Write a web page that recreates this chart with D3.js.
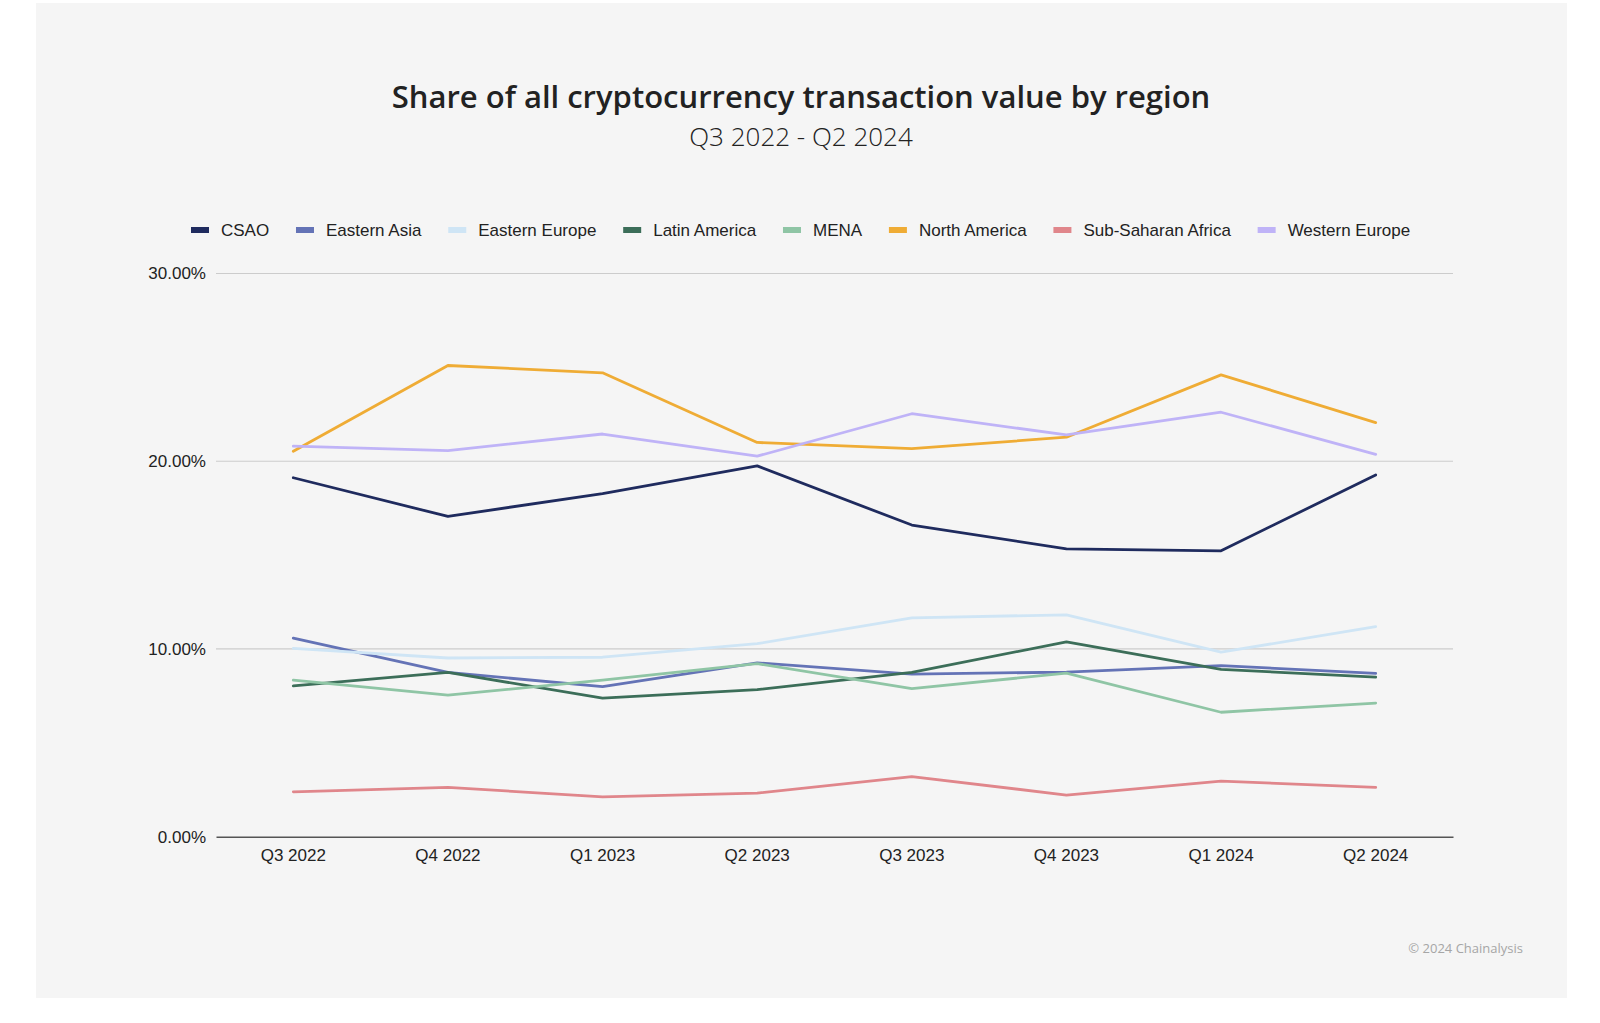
<!DOCTYPE html>
<html><head><meta charset="utf-8">
<script src="https://cdn.jsdelivr.net/npm/d3@7"></script>
<style>
html,body{margin:0;padding:0;background:#fff;}
svg{display:block;}
</style></head>
<body>
<svg id="chart" width="1600" height="1023"></svg>
<script>
const quarters = ["Q3 2022","Q4 2022","Q1 2023","Q2 2023","Q3 2023","Q4 2023","Q1 2024","Q2 2024"];
const regions = ["CSAO","Eastern Asia","Eastern Europe","Latin America","MENA","North America","Sub-Saharan Africa","Western Europe"];
const colors = ["#1f2b5e","#6473b6","#cfe5f5","#3c6e59","#8fc5a5","#efac35","#e0868b","#bfb3f7"];
const csao = [19.12, 17.06, 18.28, 19.75, 16.6, 15.33, 15.23, 19.27];
const easternAsia = [10.58, 8.75, 7.99, 9.26, 8.66, 8.77, 9.11, 8.7];
const easternEurope = [10.03, 9.52, 9.56, 10.28, 11.66, 11.82, 9.83, 11.19];
const latinAmerica = [8.03, 8.75, 7.38, 7.83, 8.75, 10.38, 8.91, 8.5];
const mena = [8.34, 7.54, 8.34, 9.22, 7.89, 8.71, 6.63, 7.12];
const northAmerica = [20.53, 25.1, 24.71, 21.0, 20.67, 21.28, 24.6, 22.06];
const subSaharanAfrica = [2.39, 2.63, 2.12, 2.32, 3.2, 2.22, 2.96, 2.63];
const westernEurope = [20.8, 20.57, 21.45, 20.27, 22.53, 21.4, 22.61, 20.37];
const yTicks = [0, 10, 20, 30];
const seriesValues = [csao, easternAsia, easternEurope, latinAmerica, mena, northAmerica, subSaharanAfrica, westernEurope];

const svg = d3.select("#chart");
svg.append("rect").attr("x",36).attr("y",3).attr("width",1531).attr("height",995).attr("fill","#f5f5f5");

svg.append("text").attr("x",801).attr("y",108).attr("text-anchor","middle")
  .style("font-family","'Open Sans', Lato, sans-serif").style("font-weight","600").style("font-size","31px")
  .attr("fill","#222").text("Share of all cryptocurrency transaction value by region");
svg.append("text").attr("x",801).attr("y",146).attr("text-anchor","middle")
  .style("font-family","'Open Sans', Lato, sans-serif").style("font-weight","300").style("font-size","26px")
  .attr("fill","#222").text("Q3 2022 - Q2 2024");

const pLeft = 216, pRight = 1453, pTop = 273.5, pBottom = 836.7;
const x = d3.scaleBand().domain(quarters).range([pLeft, pRight]);
const y = d3.scaleLinear().domain([0, 30]).range([pBottom, pTop]);

const grid = svg.append("g");
grid.selectAll("line").data(yTicks.filter(d=>d>0)).join("line")
  .attr("x1",pLeft).attr("x2",pRight).attr("y1",d=>y(d)).attr("y2",d=>y(d))
  .attr("stroke","#cccccc").attr("stroke-width",1.2);

const yAxis = d3.axisLeft(y).tickValues(yTicks).tickFormat(d=>d3.format(".2f")(d)+"%").tickSize(0).tickPadding(10);
const gy = svg.append("g").attr("transform",`translate(${pLeft},0)`).call(yAxis);
gy.select(".domain").remove();
gy.selectAll("text").style("font-family","'Liberation Sans', Arial, sans-serif").style("font-size","17px").attr("fill","#222");

const xAxis = d3.axisBottom(x).tickSize(0).tickPadding(12);
const gx = svg.append("g").attr("transform",`translate(0,${pBottom})`).call(xAxis);
gx.select(".domain").attr("stroke","#555").attr("stroke-width",1.6);
gx.selectAll("text").style("font-family","'Liberation Sans', Arial, sans-serif").style("font-size","17px").attr("fill","#222");

const line = d3.line().x((d,i)=>x(quarters[i]) + x.bandwidth()/2).y(d=>y(d));
svg.append("g").selectAll("path").data(seriesValues).join("path")
  .attr("d", d=>line(d)).attr("fill","none")
  .attr("stroke",(d,i)=>colors[i]).attr("stroke-width",2.8)
  .attr("stroke-linejoin","round").attr("stroke-linecap","round");

const legend = svg.append("g").attr("transform","translate(191,230)");
let lx = 0;
regions.forEach((r,i)=>{
  const g = legend.append("g").attr("transform",`translate(${lx},0)`);
  g.append("rect").attr("x",0).attr("y",-3).attr("width",18).attr("height",6).attr("fill",colors[i]);
  const t = g.append("text").attr("x",30).attr("y",6)
    .style("font-family","'Liberation Sans', Arial, sans-serif").style("font-size","17px").attr("fill","#222").text(r);
  lx += 30 + t.node().getComputedTextLength() + 26.8;
});

svg.append("text").attr("x",1523).attr("y",953).attr("text-anchor","end")
  .style("font-family","'Open Sans', Lato, sans-serif").style("font-size","13px").attr("fill","#a6a6a6")
  .text("© 2024 Chainalysis");
</script>
</body></html>
